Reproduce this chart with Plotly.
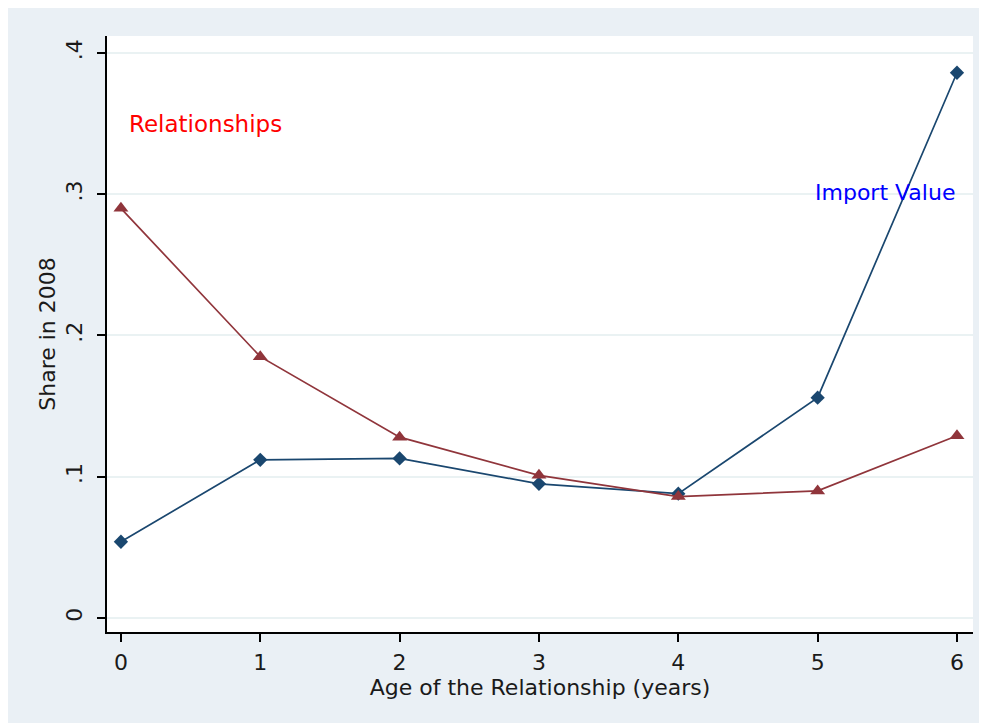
import plotly.graph_objects as go

# Values
ages = [0, 1, 2, 3, 4, 5, 6]
import_value = [0.054, 0.112, 0.113, 0.095, 0.088, 0.156, 0.386]
relationships = [0.290, 0.185, 0.128, 0.101, 0.086, 0.090, 0.129]

y_tickvals = [0, 0.1, 0.2, 0.3, 0.4]
y_ticktext = ["0", ".1", ".2", ".3", ".4"]

navy = "#1A476F"
maroon = "#90353B"
bg = "#EAF0F5"
font_family = "DejaVu Sans, Arial, sans-serif"

fig = go.Figure()

fig.add_trace(go.Scatter(
    x=ages, y=import_value, mode="lines+markers", name="Import Value",
    line=dict(color=navy, width=1.7),
    marker=dict(symbol="diamond", size=11, color=navy),
))
fig.add_trace(go.Scatter(
    x=ages, y=relationships, mode="lines+markers", name="Relationships",
    line=dict(color=maroon, width=1.7),
    marker=dict(symbol="triangle-up", size=13, color=maroon),
))

# Text labels placed inside the plot like the Stata version
fig.add_annotation(x=0.04, y=0.35, xanchor="left", yanchor="middle",
                   text="Relationships", showarrow=False,
                   font=dict(color="#FF0000", size=23, family=font_family))
fig.add_annotation(x=4.97, y=0.301, xanchor="left", yanchor="middle",
                   text="Import Value", showarrow=False,
                   font=dict(color="#0000FF", size=22, family=font_family))

fig.update_layout(
    width=987, height=723,
    margin=dict(l=99, r=22, t=28, b=99),
    paper_bgcolor=bg,
    plot_bgcolor="white",
    showlegend=False,
    font=dict(family=font_family, size=22, color="#1a1a1a"),
    xaxis=dict(
        range=[-0.1, 6.115],
        tickvals=ages,
        showgrid=False, zeroline=False,
        showline=True, linecolor="black", linewidth=1.5,
        ticks="outside", ticklen=8, tickwidth=1.5, tickcolor="black",
        ticklabelstandoff=2,
        title=dict(text="Age of the Relationship (years)", standoff=0,
                   font=dict(size=22)),
        tickfont=dict(size=22),
    ),
    yaxis=dict(
        range=[-0.0099, 0.412],
        tickvals=y_tickvals, ticktext=y_ticktext, tickangle=-90,
        showgrid=True, gridcolor="#EAF2F3", gridwidth=1.5,
        zeroline=False,
        showline=True, linecolor="black", linewidth=1.5,
        ticks="outside", ticklen=8, tickwidth=1.5, tickcolor="black",
        ticklabelstandoff=6,
        title=dict(text="Share in 2008", standoff=1, font=dict(size=22)),
        tickfont=dict(size=22),
    ),
)

fig.write_html("out.html")
